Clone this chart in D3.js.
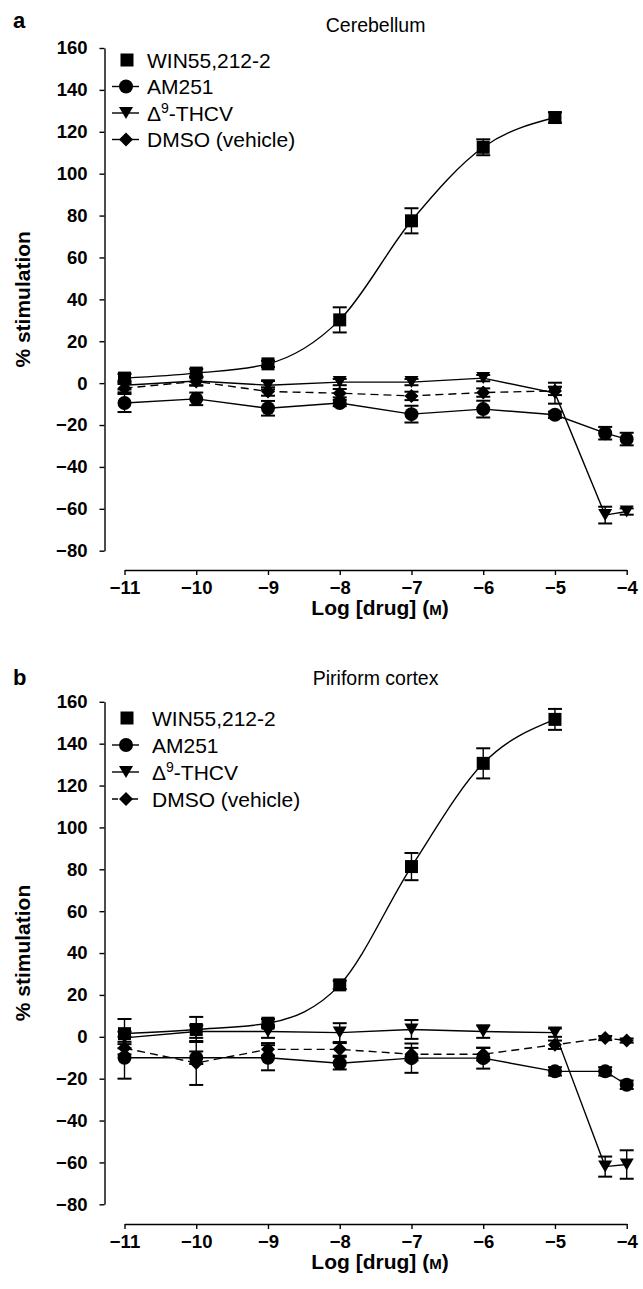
<!DOCTYPE html>
<html><head><meta charset="utf-8">
<script src="https://cdn.jsdelivr.net/npm/d3@7"></script>
<style>
body{margin:0;background:#fff}
text{font-family:"Liberation Sans",Arial,Helvetica,sans-serif;fill:#000}
</style>
</head><body>
<svg id="c" width="643" height="1289"></svg>
<script>
// ---------- data ----------
const doses = [-11, -10, -9, -8, -7, -6, -5, -4.3, -4];
const xTicks = [-11, -10, -9, -8, -7, -6, -5, -4];
const yTicks = [-80, -60, -40, -20, 0, 20, 40, 60, 80, 100, 120, 140, 160];
const legendNames = ["WIN55,212-2", "AM251", "THCV", "DMSO (vehicle)"];

// Panel a: Cerebellum
const aWin = [2.4, 4.8, 9.2, 30.2, 77.5, 112.6, 126.8];
const aWinErr = [2, 2, 1.5, 6, 6, 3.8, 2.5];
const aAm = [-9.5, -7.5, -12, -9.5, -14.8, -12.4, -15.1, -23.9, -26.7];
const aAmErr = [4.3, 3, 3.5, 1.5, 4, 4, 1.5, 3, 3];
const aThcv = [-1, 1, -1, 0.5, 0.5, 2.4, -4.8, -63, -61.3];
const aThcvErr = [2, 2, 2, 1.5, 1.5, 1.5, 5, 4, 1.5];
const aDmso = [-2.4, 0.8, -4, -4.8, -6.1, -4.5, -3.7];
const aDmsoErr = [2, 2, 2, 2, 2, 2, 2];

// Panel b: Piriform cortex
const bWin = [1.5, 3.5, 6.5, 24.8, 81.3, 130.6, 151.6];
const bWinErr = [7, 6, 2, 2, 6.5, 7.2, 5];
const bAm = [-10, -10, -10, -12.6, -10.2, -10.2, -16.5, -16.5, -22.9];
const bAmErr = [10, 3, 6, 3, 7, 5, 2, 2, 2];
const bThcv = [-0.5, 2.5, 2.5, 2, 3.5, 2.5, 2, -62, -61];
const bThcvErr = [3, 3, 3, 4.5, 4.5, 3, 2, 4.8, 6.8];
const bDmso = [-5.4, -12.5, -6, -6, -8.3, -8.3, -3.8, -0.6, -1.8];
const bDmsoErr = [3, 10.5, 3, 3, 3, 3, 2, 1, 1];

// ---------- drawing ----------
const svg = d3.select("#c");

function shapePath(type) {
  if (type === "square") return "M-6.5,-6.5H6.5V6.5H-6.5Z";
  if (type === "circle") return "M7,0A7,7 0 1,1 -7,0A7,7 0 1,1 7,0Z";
  if (type === "triangle") return "M-7,-6L7,-6L0,6Z";
  return "M0,-7L7,0L0,7L-7,0Z";
}

function panel(cfg) {
  const x = d3.scaleLinear().domain([-11, -4]).range([124.5, 626.7]);
  const y = d3.scaleLinear().domain([-80, 160]).range([cfg.bottom, cfg.top]);
  const g = svg.append("g");

  // axes
  const yAxis = d3.axisLeft(y).tickValues(yTicks).tickFormat(d3.format("d"))
    .tickSize(5).tickSizeOuter(0).tickPadding(12);
  const ya = g.append("g").attr("transform", "translate(104.5,0)").call(yAxis);
  const xAxis = d3.axisBottom(x).tickValues(xTicks).tickFormat(d3.format("d"))
    .tickSize(5).tickSizeOuter(0).tickPadding(6);
  const xa = g.append("g").attr("transform", `translate(0,${cfg.xAxisY})`).call(xAxis);
  [ya, xa].forEach(a => {
    a.selectAll("path,line").attr("stroke", "#000").attr("stroke-width", 1.4);
    a.selectAll("text").attr("font-size", 18.5).attr("font-weight", "bold")
      .attr("font-family", '"Liberation Sans",Arial,sans-serif');
  });

  // labels
  g.append("text").attr("x", 13).attr("y", cfg.letterY).attr("font-size", 22)
    .attr("font-weight", "bold").text(cfg.letter);
  g.append("text").attr("x", 375.6).attr("y", cfg.titleY).attr("font-size", 19.5)
    .attr("text-anchor", "middle").text(cfg.title);
  g.append("text").attr("transform", `translate(30,${(cfg.top + cfg.bottom) / 2}) rotate(-90)`)
    .attr("font-size", 21).attr("font-weight", "bold").attr("text-anchor", "middle")
    .text("% stimulation");
  const xl = g.append("text").attr("x", 380).attr("y", cfg.xAxisY + 45)
    .attr("font-size", 21).attr("font-weight", "bold").attr("text-anchor", "middle");
  xl.append("tspan").text("Log [drug] (");
  xl.append("tspan").attr("font-size", 15).text("M");
  xl.append("tspan").text(")");

  const series = [
    { v: cfg.win, e: cfg.winErr, shape: "square", curve: true },
    { v: cfg.am, e: cfg.amErr, shape: "circle" },
    { v: cfg.thcv, e: cfg.thcvErr, shape: "triangle" },
    { v: cfg.dmso, e: cfg.dmsoErr, shape: "diamond", dash: "8,5" }
  ];

  // lines
  series.forEach(s => {
    const pts = s.v.map((v, i) => [doses[i], v]);
    const line = d3.line().x(d => x(d[0])).y(d => y(d[1]))
      .curve(s.curve ? d3.curveMonotoneX : d3.curveLinear);
    g.append("path").attr("d", line(pts)).attr("fill", "none").attr("stroke", "#000")
      .attr("stroke-width", 1.4).attr("stroke-dasharray", s.dash || null);
  });

  // error bars
  series.forEach(s => {
    s.v.forEach((v, i) => {
      const cx = x(doses[i]), e = s.e[i];
      const y1 = y(v + e), y2 = y(v - e);
      g.append("line").attr("x1", cx).attr("x2", cx).attr("y1", y1).attr("y2", y2)
        .attr("stroke", "#000").attr("stroke-width", 1.4);
      [y1, y2].forEach(yy => g.append("line").attr("x1", cx - 7).attr("x2", cx + 7)
        .attr("y1", yy).attr("y2", yy).attr("stroke", "#000").attr("stroke-width", 2));
    });
  });

  // markers
  series.forEach(s => {
    g.selectAll(null).data(s.v).enter().append("path")
      .attr("d", shapePath(s.shape))
      .attr("transform", (v, i) => `translate(${x(doses[i])},${y(v)})`)
      .attr("fill", "#000");
  });

  // legend
  const shapes = ["square", "circle", "triangle", "diamond"];
  legendNames.forEach((name, i) => {
    const ly = cfg.legY + i * cfg.legStep;
    if (i > 0) {
      g.append("line").attr("x1", 112).attr("x2", 139).attr("y1", ly).attr("y2", ly)
        .attr("stroke", "#000").attr("stroke-width", 1.4)
        .attr("stroke-dasharray", i === 3 ? cfg.legDash : null);
    }
    g.append("path").attr("d", shapePath(shapes[i]))
      .attr("transform", `translate(${126 + (i === 0 ? 1 : 0)},${ly})`).attr("fill", "#000");
    const t = g.append("text").attr("x", cfg.legX).attr("y", ly + 7.5).attr("font-size", 21);
    if (i === 2) {
      t.append("tspan").text("Δ");
      t.append("tspan").attr("font-size", 14).attr("dy", -8).text("9");
      t.append("tspan").attr("dy", 8).text("-THCV");
    } else {
      t.text(name);
    }
  });
}

panel({ letter: "a", title: "Cerebellum", top: 48, bottom: 550.7, xAxisY: 570,
  letterY: 28, titleY: 32,
  win: aWin, winErr: aWinErr, am: aAm, amErr: aAmErr, thcv: aThcv, thcvErr: aThcvErr,
  dmso: aDmso, dmsoErr: aDmsoErr, legY: 60, legStep: 26.5, legX: 147, legDash: null });
panel({ letter: "b", title: "Piriform cortex", top: 701.8, bottom: 1204.3, xAxisY: 1224,
  letterY: 685, titleY: 685,
  win: bWin, winErr: bWinErr, am: bAm, amErr: bAmErr, thcv: bThcv, thcvErr: bThcvErr,
  dmso: bDmso, dmsoErr: bDmsoErr, legY: 718, legStep: 27, legX: 152, legDash: "6,4" });
</script>
</body></html>
